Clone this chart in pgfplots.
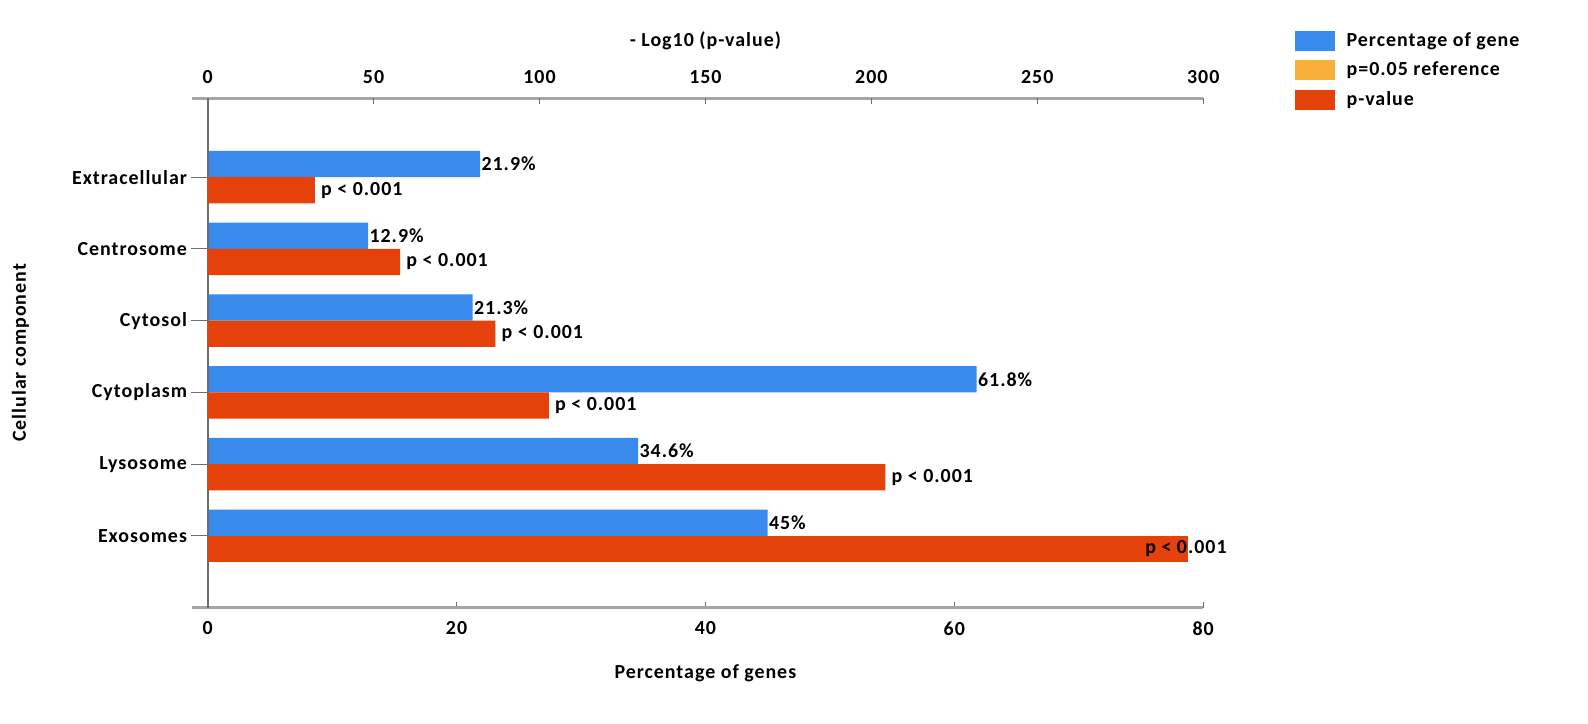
\documentclass[border=0pt]{standalone}
\usepackage{pgfplots}
\pgfplotsset{compat=1.18}
\usepackage{fontspec}
\setmainfont{Carlito}[LetterSpace=5]
\definecolor{bblue}{RGB}{56,138,236}
\definecolor{rred}{RGB}{228,66,10}
\definecolor{oorange}{RGB}{248,176,58}
\definecolor{axgray}{RGB}{165,165,165}
\definecolor{spine}{RGB}{110,110,110}
\newcommand{\ff}{\fontsize{10}{12}\selectfont\bfseries}
\begin{document}
\begin{tikzpicture}[x=1bp,y=1bp]
\useasboundingbox (0,0) rectangle (794,361.5);
\pgfplotsset{common/.style={
  at={(103.8bp,57.7bp)}, anchor=south west, scale only axis,
  width=497.8bp, height=254.7bp,
  ymin=-1, ymax=6.1, xbar,
  axis line style={draw=none},
  font=\ff,
  ticklabel style={font=\ff},
  /pgf/number format/assume math mode=true,
  tick style={spine, line width=0.6bp},
  major tick length=3bp,
  bar width=0.366,
  clip=false,
}}
\begin{axis}[common,
  xmin=0, xmax=80, xtick={0,20,...,80},
  xtick pos=bottom, xtick align=inside,
  ytick={0,1,2,3,4,5},
  yticklabels={Exosomes,Lysosome,Cytoplasm,Cytosol,Centrosome,Extracellular},
  ytick pos=left, ytick align=outside,
  y tick style={draw=none},
  yticklabel style={xshift=-3.8bp},
  xlabel={Percentage of genes},
  xlabel style={at={(0.5,-0.129)}, anchor=center},
  ylabel={Cellular component},
  ylabel style={at={(-0.188,0.5)}, anchor=center, rotate=0},
  xticklabel style={yshift=-3.5bp},
  nodes near coords={\pgfmathprintnumber[fixed,precision=1]{\pgfplotspointmeta}\%},
  nodes near coords style={anchor=west, inner sep=0.5bp, font=\ff},
  after end axis/.code={
    \draw[axgray, line width=1.6bp] ([xshift=-7.6bp]rel axis cs:0,0) -- (rel axis cs:1,0);
    \draw[axgray, line width=1.6bp] ([xshift=-7.6bp]rel axis cs:0,1) -- (rel axis cs:1,1);
    \draw[spine, line width=0.9bp] (rel axis cs:0,0) -- (rel axis cs:0,1);
    \foreach \k in {0,...,5} {\draw[spine, line width=0.6bp] (axis cs:0,\k) -- ++(-8.5bp,0);}
  },
]
\addplot[fill=bblue, draw=none, bar shift=0.183] coordinates {
  (45,0) (34.6,1) (61.8,2) (21.3,3) (12.9,4) (21.9,5)};
\end{axis}
\begin{axis}[common,
  xmin=0, xmax=300, xtick={0,50,...,300},
  xtick pos=top, xticklabel pos=top, xtick align=inside,
  xticklabel style={yshift=4bp},
  ytick=\empty,
  xlabel={- Log10 (p-value)},
  xlabel style={at={(0.5,1.113)}, anchor=center},
  legend style={at={(1.0915,1.138)}, anchor=north west, draw=none, fill=none,
    font=\ff, inner sep=0pt, column sep=4bp,
    row sep=2.3bp, cells={anchor=west}},
  legend image code/.code={\fill[#1] (0bp,-5bp) rectangle (20bp,5bp);},
]
\addlegendimage{fill=bblue, draw=none}
\addlegendentry{Percentage of gene}
\addlegendimage{fill=oorange, draw=none}
\addlegendentry{p=0.05 reference}
\addplot[fill=rred, draw=none, bar shift=-0.183,
  nodes near coords={p < 0.001},
  nodes near coords style={anchor=west, inner sep=0pt, xshift=3bp, font=\ff}]
  coordinates {(204.2,1) (102.8,2) (86.7,3) (58.0,4) (32.3,5)};
\addlegendentry{p-value}
\addplot[fill=rred, draw=none, bar shift=-0.183, forget plot,
  nodes near coords={p < 0.001},
  nodes near coords style={anchor=west, inner sep=0pt, xshift=-21.5bp, font=\ff}]
  coordinates {(295.4,0)};
\end{axis}
\end{tikzpicture}
\end{document}
